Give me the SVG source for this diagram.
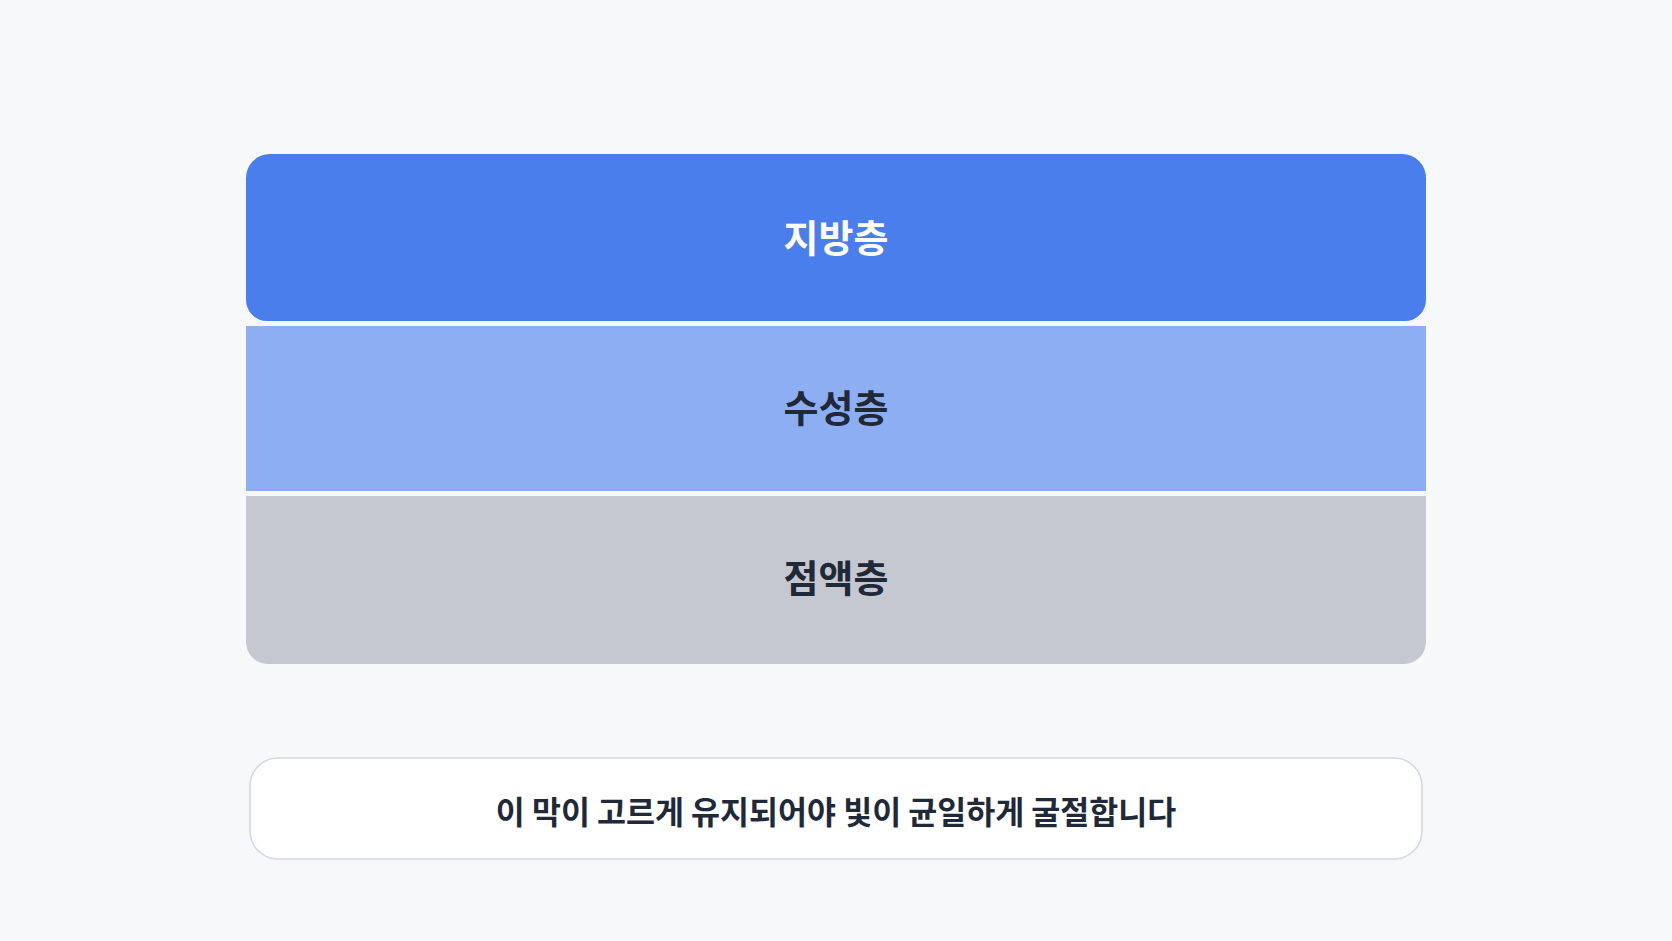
<svg xmlns="http://www.w3.org/2000/svg" width="1672" height="941" viewBox="0 0 1672 941">
<style>
.lbl{font-family:"Noto Sans CJK KR","Noto Sans",sans-serif;font-weight:700;text-anchor:middle}
.dark{fill:#1f2937}
</style>
<rect x="0" y="0" width="1672" height="941" fill="#f7f8fa"/>
<g id="layer-fat">
<path d="M246,178 a24,24 0 0 1 24,-24 H1402 a24,24 0 0 1 24,24 V300 a21,21 0 0 1 -21,21 H267 a21,21 0 0 1 -21,-21 Z" fill="#4a7eec"/>
<text class="lbl" x="836" y="252" font-size="38" fill="#ffffff">지방층</text>
</g>
<g id="layer-aqueous">
<rect x="246" y="326" width="1180" height="165" fill="#8daef3"/>
<text class="lbl dark" x="836" y="422" font-size="38">수성층</text>
</g>
<g id="layer-mucin">
<path d="M246,496 H1426 V642 a22,22 0 0 1 -22,22 H268 a22,22 0 0 1 -22,-22 Z" fill="#c5c8d1"/>
<text class="lbl dark" x="836" y="592" font-size="38">점액층</text>
</g>
<g id="caption">
<rect x="250" y="758" width="1172" height="101" rx="28" fill="#ffffff" stroke="#d4d7dd" stroke-width="1.5"/>
<text class="lbl dark" x="836" y="824" font-size="31.5">이 막이 고르게 유지되어야 빛이 균일하게 굴절합니다</text>
</g>
<g id="connectors"></g>
</svg>
